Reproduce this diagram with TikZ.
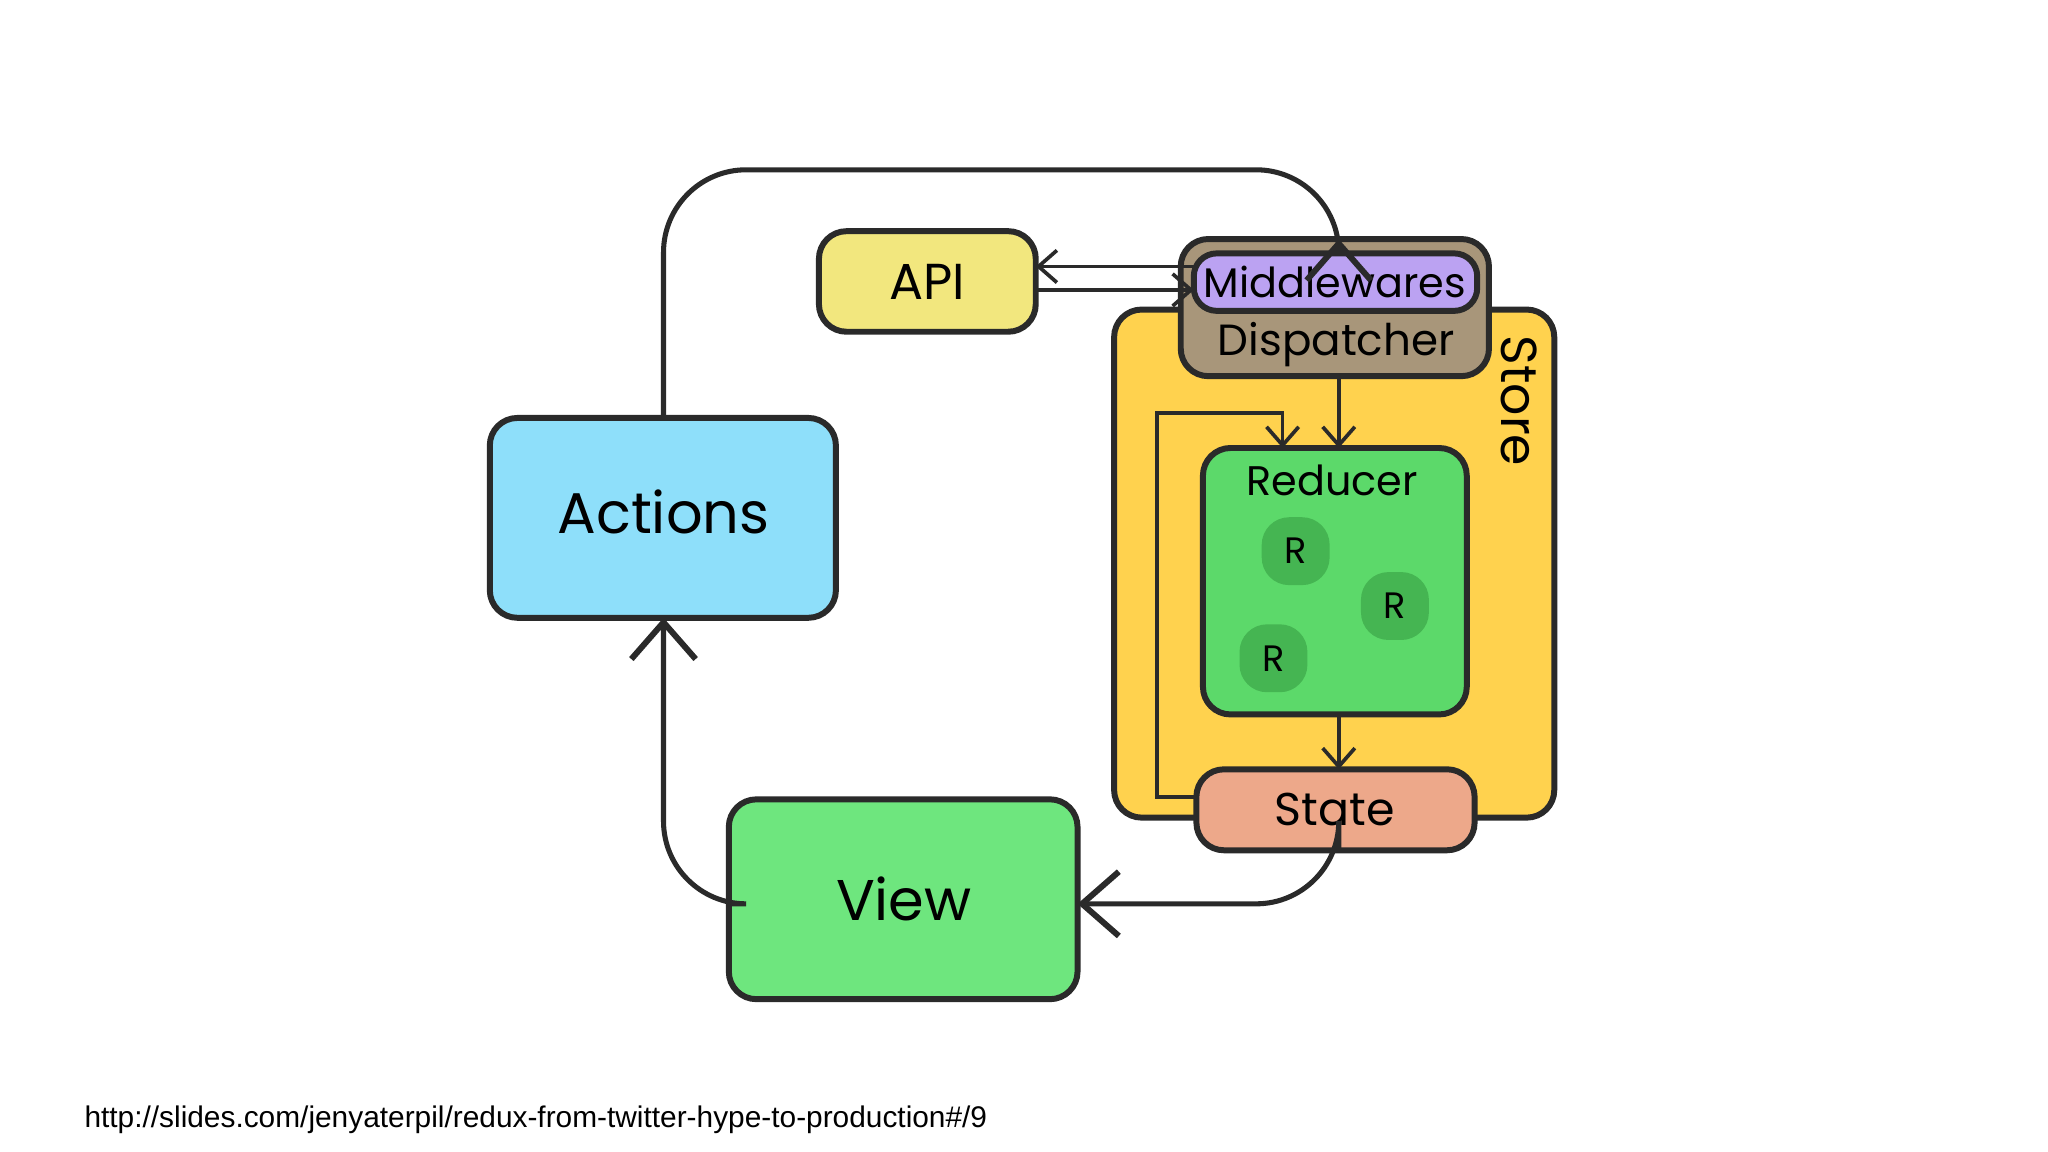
\documentclass[tikz,border=0pt]{standalone}
\usepackage{fontspec}
\setmainfont{Poppins}
\newfontfamily\urlfont{Liberation Sans}
\usetikzlibrary{arrows.meta}
\definecolor{actc}{HTML}{8EDFFA}
\definecolor{viewc}{HTML}{6EE67E}
\definecolor{apic}{HTML}{F2E77E}
\definecolor{storec}{HTML}{FFD24E}
\definecolor{dispc}{HTML}{A8967A}
\definecolor{midc}{HTML}{BBA2F2}
\definecolor{redc}{HTML}{5CD96A}
\definecolor{rc}{HTML}{45B552}
\definecolor{statec}{HTML}{EDA88A}
\definecolor{linec}{HTML}{2A2A2A}
\begin{document}
\begin{tikzpicture}[x=0.01cm,y=-0.01cm,
  box/.style={draw=linec,line width=1.3pt,rounded corners=6pt},
  flow/.style={draw=linec,line width=1.1pt,rounded corners=18pt},
  big/.style={-{Straight Barb[length=8pt,width=14pt,line width=1.3pt]}},
  small/.style={draw=linec,line width=0.8pt,-{Straight Barb[length=4pt,width=7pt]}}]
\useasboundingbox (0,0) rectangle (1568,882);
% boxes
\draw[box,fill=storec] (853,237) rectangle (1190,626);
\node[rotate=-90,font=\fontsize{11}{11}\selectfont] (store) at (1163,307) {Store};
\draw[box,fill=actc] (375,320) rectangle (640,473);
\node[font=\fontsize{12.5}{12}\selectfont] (actions) at (508,392) {Actions};
\coordinate (acttop) at (508,320);
\coordinate (actbot) at (508,473);
\draw[box,fill=viewc] (558,612) rectangle (825,765);
\node[font=\fontsize{12.5}{12}\selectfont] (view) at (692,688) {View};
\coordinate (viewl) at (558,692);
\coordinate (viewr) at (825,692);
\draw[box,fill=apic] (627,177) rectangle (793,254);
\node[font=\fontsize{11}{11}\selectfont] (api) at (710,216) {API};
\draw[box,fill=dispc] (904,183) rectangle (1140,288);
\node[font=\fontsize{9.5}{9}\selectfont] (disp) at (1023,264) {Dispatcher};
\draw[box,fill=midc,rounded corners=5pt] (914,194) rectangle (1131,238);
\node[font=\fontsize{9}{9}\selectfont] (mid) at (1022,216) {Middlewares};
\draw[box,fill=redc] (921,343) rectangle (1123,547);
\node[font=\fontsize{9}{9}\selectfont] (red) at (1020,368) {Reducer};
\foreach \x/\y/\n in {992/422/r1,1068/464/r2,975/504/r3}
  \node[fill=rc,rounded corners=6pt,minimum size=52*0.01cm,inner sep=0pt,
        font=\fontsize{8}{8}\selectfont] (\n) at (\x,\y) {R};
\draw[box,fill=statec] (916,589) rectangle (1129,651);
\node[font=\fontsize{10}{10}\selectfont] (state) at (1022,620) {State};
% connectors
\draw[flow,big] (acttop) |- (1025,130) -- (1025,183);
\draw[flow,big] (1025,651) |- (viewr);
\draw[flow,big] (viewl) -| (actbot);
\draw[small] (914,204) -- (793,204);
\draw[small] (793,222) -- (914,222);
\draw[small] (1025,288) -- (1025,343);
\draw[small] (1025,547) -- (1025,589);
\draw[small] (916,610) -- (886,610) -- (886,316) -- (982,316) -- (982,343);
% source
\node[anchor=west,font=\urlfont\fontsize{6.5}{7}\selectfont,inner sep=0pt] (src) at (64,857)
  {http://slides.com/jenyaterpil/redux-from-twitter-hype-to-production\#/9};
\end{tikzpicture}
\end{document}
